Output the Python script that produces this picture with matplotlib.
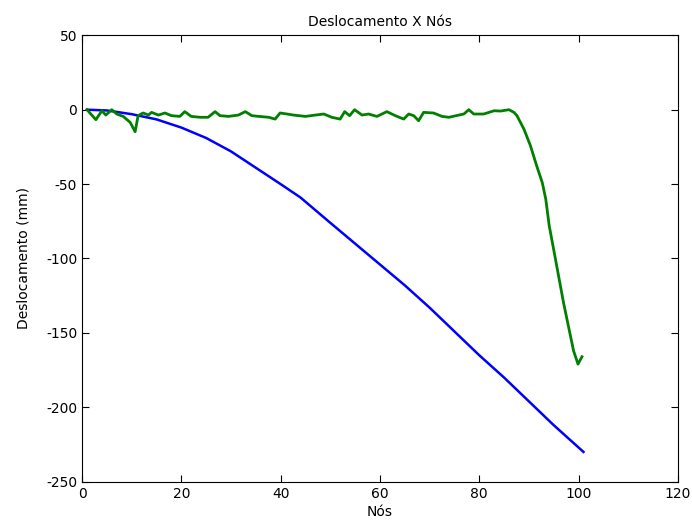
import matplotlib
matplotlib.use('Agg')
import matplotlib.pyplot as plt

plt.rcParams['axes.unicode_minus'] = False

# blue curve
blue_x = [1, 5, 10, 15, 20, 25, 30, 35, 40, 44, 50, 55, 60, 65, 70, 75, 80, 85, 90, 95, 101]
blue_y = [0, -0.5, -3, -6.5, -12, -19, -28, -39, -50, -59, -76, -90, -104, -118, -133,
          -149, -165, -180, -196, -212, -230]

# green curve
green_x = [1, 2.8, 4, 4.8, 6, 7, 8.3, 9.7, 10.7, 11.3, 12.3, 13.4, 14, 15.4, 16.7, 18,
           19.7, 20.7, 22, 23.8, 25.4, 26.8, 27.8, 29.5, 31.5, 32.9, 34.2, 35.6, 37.6,
           38.9, 39.9, 41.3, 42.6, 45, 47, 48.7, 50.3, 52, 52.9, 53.9, 54.9, 56.4, 57.7,
           59.4, 61.4, 63.1, 64.8, 65.8, 66.8, 67.8, 68.8, 70.8, 72.5, 73.9, 75.9, 76.9,
           77.9, 78.9, 80.9, 83, 84.3, 86, 87, 87.6, 89, 90.3, 91.6, 92.7, 93.4, 94.1,
           95, 96, 97, 98, 99, 99.9, 100.7]
green_y = [0, -6.7, -0.7, -3.6, 0, -2.9, -4.5, -8.5, -14.8, -4, -2.2, -3.6, -1.8, -3.6,
           -2.2, -4, -4.5, -1.3, -4.5, -5.1, -5.1, -1.3, -4, -4.5, -3.6, -1.3, -4, -4.5,
           -5.1, -6.3, -2.2, -2.9, -3.6, -4.5, -3.6, -2.9, -5.1, -6.3, -1.3, -4, 0, -3.6,
           -2.9, -4.5, -1.3, -4, -6.3, -2.9, -4, -7.4, -1.8, -2.2, -4.5, -5.1, -3.6, -2.9,
           0, -2.9, -2.9, -0.7, -0.9, 0, -1.8, -4, -13, -24, -38, -49, -60, -78,
           -94, -112, -130, -146, -162, -171, -166]

fig = plt.figure(figsize=(6.92, 5.27), dpi=100)
ax = fig.add_axes([0.1185, 0.086, 0.861, 0.847])

ax.plot(blue_x, blue_y, color=(0, 0, 1), linewidth=1.8)
ax.plot(green_x, green_y, color=(0, 0.5, 0), linewidth=2.0)

ax.set_xlim(0, 120)
ax.set_ylim(-250, 50)
ax.set_xticks(range(0, 121, 20))
ax.set_yticks(range(-250, 51, 50))
ax.tick_params(direction='in', top=True, right=True, labelsize=10, length=5)
for s in ax.spines.values():
    s.set_linewidth(0.8)

ax.set_title('Deslocamento X Nós', fontsize=10, pad=7)
ax.set_xlabel('Nós', fontsize=10, labelpad=3)
ax.set_ylabel('Deslocamento (mm)', fontsize=10, labelpad=11)

fig.savefig('out.png', dpi=100)
